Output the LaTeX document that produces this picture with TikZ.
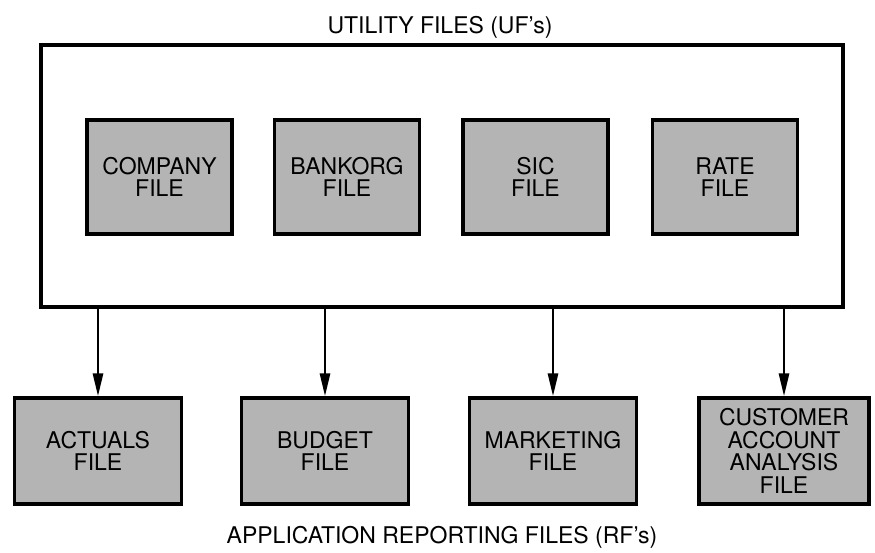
\documentclass[tikz,border=0pt]{standalone}
\usepackage{fontspec}
\setmainfont{TeX Gyre Heros}
\usetikzlibrary{arrows.meta}
\definecolor{stipple}{HTML}{B4B4B4}
\begin{document}
\begin{tikzpicture}[x=1pt,y=-1pt,
  txt/.style={font=\fontsize{23}{22.7}\selectfont, align=center, inner sep=0pt},
  filebox/.style={txt, draw=black, line width=3.2pt, fill=stipple},
  topfile/.style={filebox, minimum width=145pt, minimum height=114pt},
  repfile/.style={filebox, minimum width=167pt, minimum height=106pt},
  outerbox/.style={draw=black, line width=3.2pt, minimum width=802pt, minimum height=262pt, inner sep=0pt},
  flow/.style={line width=2.8pt, -{Triangle[length=23pt,width=10pt]}}
]
\useasboundingbox (0,0) rectangle (875,552);
\node[outerbox] (uf) at (442,176) {};
\node[txt, anchor=base] (uftitle) at (440,33) {UTILITY FILES (UF's)};
\node[topfile] (company) at (159.5,177) {COMPANY\\FILE};
\node[topfile] (bankorg) at (347,177) {BANKORG\\FILE};
\node[topfile] (sic) at (535.5,177) {SIC\\FILE};
\node[topfile] (rate) at (725,177) {RATE\\FILE};
\node[repfile] (actuals) at (98,451) {ACTUALS\\FILE};
\node[repfile] (budget) at (325,451) {BUDGET\\FILE};
\node[repfile] (marketing) at (553,451) {MARKETING\\FILE};
\node[repfile, minimum width=170pt] (customer) at (784,451) {CUSTOMER\\ACCOUNT\\ANALYSIS\\FILE};
\node[txt, anchor=base] (rftitle) at (442,543) {APPLICATION REPORTING FILES (RF's)};
\foreach \b in {actuals,budget,marketing,customer}
  \draw[flow] (uf.south -| \b.north) -- (\b.north);
\end{tikzpicture}
\end{document}
